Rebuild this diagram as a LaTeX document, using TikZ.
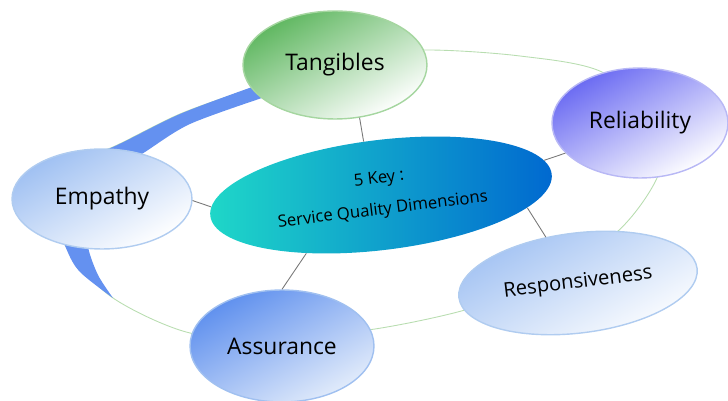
\documentclass[tikz,border=0pt]{standalone}
\usepackage{fontspec}
\setmainfont{Open Sans}
\usetikzlibrary{shapes.geometric}

\definecolor{RingColor}{RGB}{184,221,176}
\definecolor{BandColor}{RGB}{100,145,240}
\definecolor{LinkColor}{RGB}{120,120,120}
\definecolor{TangColor}{RGB}{95,183,96}
\definecolor{TangEdge}{RGB}{165,214,160}
\definecolor{RelColor}{RGB}{106,106,242}
\definecolor{RelEdge}{RGB}{184,184,245}
\definecolor{EmpColor}{RGB}{159,192,242}
\definecolor{EmpEdge}{RGB}{176,204,240}
\definecolor{AssuColor}{RGB}{95,144,238}
\definecolor{AssuEdge}{RGB}{160,192,240}
\definecolor{KeyLeft}{RGB}{31,216,200}
\definecolor{KeyRight}{RGB}{0,104,208}

\tikzstyle{dimension}=[ellipse,
                    draw,
                    line width=0.8pt,
                    inner sep=0pt,
                    font=\fontsize{13}{15}\selectfont,
                    text centered]
\tikzstyle{tang}=[dimension, draw=TangEdge, top color=TangColor, bottom color=white, shading angle=30]
\tikzstyle{rel}=[dimension, draw=RelEdge, top color=RelColor, bottom color=white, shading angle=30]
\tikzstyle{emp}=[dimension, draw=EmpEdge, top color=EmpColor, bottom color=white, shading angle=30]
\tikzstyle{assu}=[dimension, draw=AssuEdge, top color=AssuColor, bottom color=AssuEdge!30, shading angle=30]
\tikzstyle{keybox}=[ellipse, inner sep=0pt, left color=KeyLeft, right color=KeyRight,
                    align=center, font=\fontsize{9.5}{11}\selectfont]
\tikzstyle{link}=[draw=LinkColor, line width=0.5pt]

\begin{document}
\begin{tikzpicture}[x=0.02cm, y=-0.02cm]
    \useasboundingbox (0,0) rectangle (728,401);

    % ring and band behind the dimensions
    \draw[RingColor, line width=0.5pt] plot[smooth cycle] coordinates {
        (255,87) (340,57) (426,50) (520,56) (602,72) (665,125) (657,178)
        (617,232) (540,282) (465,310) (375,329) (282,338) (190,333)
        (113,298) (68,250) (50,200) (70,162) (113,147) (180,114)};
    \fill[BandColor] plot[smooth] coordinates {(113,298) (80,272) (66,248) (50,200) (70,162) (113,147) (180,114) (255,86)}
        -- plot[smooth] coordinates {(262,98) (190,124) (145,152) (100,182) (86,215) (88,247) (98,275) (113,298)}
        -- cycle;

    \node at (381, 195) (key)  [keybox, minimum width=6.88cm, minimum height=2.2cm, rotate=7]
                               {5 Key :\\[7pt] Service Quality Dimensions};
    \node at (335,  65) (tang) [tang, minimum width=3.68cm, minimum height=2.16cm] {Tangibles};
    \node at (640, 123) (rel)  [rel,  minimum width=3.52cm, minimum height=2.2cm]  {Reliability};
    \node at (102, 199) (emp)  [emp,  minimum width=3.6cm,  minimum height=2.0cm]  {Empathy};
    \node at (282, 346) (assu) [assu, minimum width=3.68cm, minimum height=2.24cm] {Assurance};
    \node at (578, 283) (resp) [emp,  minimum width=4.8cm,  minimum height=2.0cm, rotate=7,
                                font=\fontsize{11.5}{13}\selectfont] {Responsiveness};

    \draw[link] (key.101) -- (tang.-65);
    \draw[link] (key.5)   -- (rel.202);
    \draw[link] (key.177) -- (emp.-1);
    \draw[link] (key.211) -- (assu.90);
    \draw[link] (key.-12) -- (resp.118);
\end{tikzpicture}
\end{document}
